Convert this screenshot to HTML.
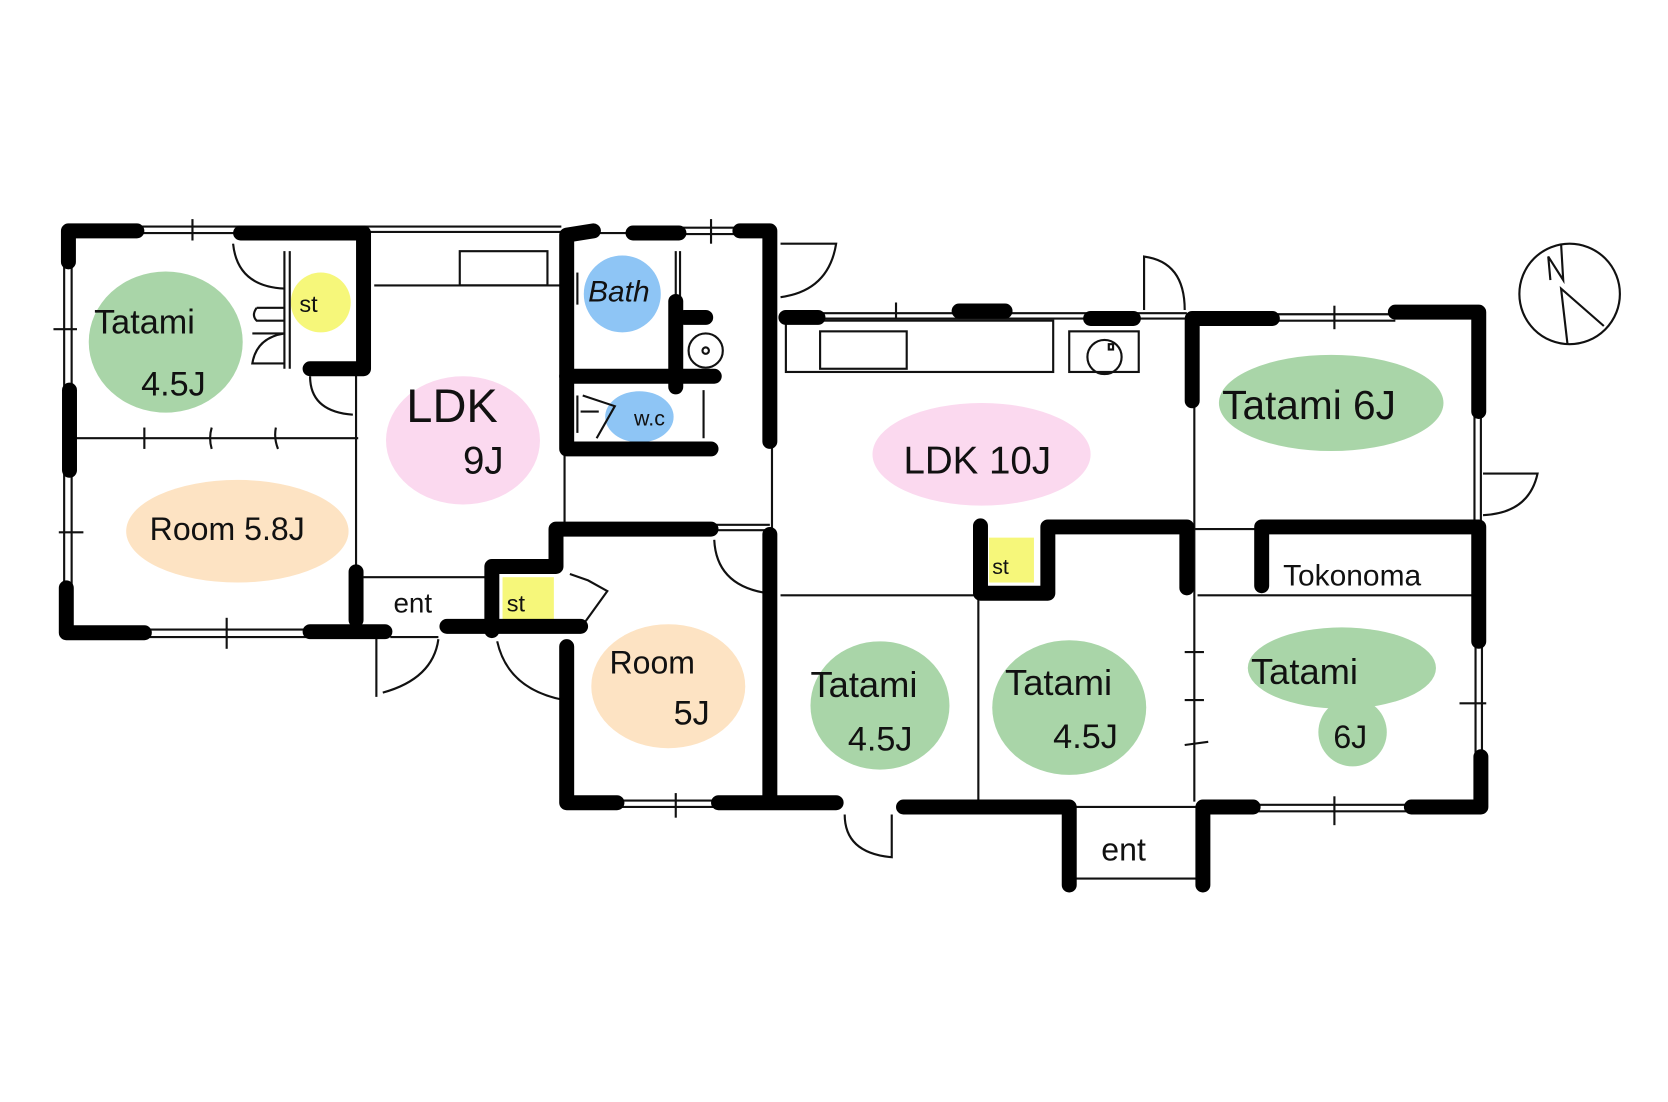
<!DOCTYPE html>
<html><head><meta charset="utf-8"><style>
html,body{margin:0;padding:0;background:#fff;width:1668px;height:1102px;overflow:hidden}
svg{display:block}
text{font-family:"Liberation Sans",sans-serif;fill:#111}
</style></head><body>
<svg width="1668" height="1102" viewBox="0 0 1560 1031" preserveAspectRatio="none" xmlns="http://www.w3.org/2000/svg">
<!-- blobs -->
<g>
<ellipse cx="155" cy="320" rx="72" ry="66" fill="#a9d5a8"/>
<ellipse cx="222" cy="497" rx="104" ry="48" fill="#fde3c3"/>
<ellipse cx="433" cy="412" rx="72" ry="60" fill="#fbd9ef"/>
<ellipse cx="625" cy="642" rx="72" ry="58" fill="#fde3c3"/>
<ellipse cx="918" cy="425" rx="102" ry="48" fill="#fbd9ef"/>
<ellipse cx="1245" cy="377" rx="105" ry="45" fill="#a9d5a8"/>
<ellipse cx="823" cy="660" rx="65" ry="60" fill="#a9d5a8"/>
<ellipse cx="1000" cy="662" rx="72" ry="63" fill="#a9d5a8"/>
<ellipse cx="1255" cy="625" rx="88" ry="38" fill="#a9d5a8"/>
<ellipse cx="1265" cy="685" rx="32" ry="32" fill="#a9d5a8"/>
<circle cx="582" cy="275" r="36" fill="#8ec5f5"/>
<ellipse cx="598" cy="390" rx="32" ry="24" fill="#8ec5f5"/>
<circle cx="300" cy="283" r="28" fill="#f6f77a"/>
<rect x="470" y="540" width="48" height="40" fill="#f6f77a"/>
<rect x="925" y="503" width="42" height="42" fill="#f6f77a"/>
</g>
<!-- thin lines -->
<g stroke="#111" stroke-width="2" fill="none">
<line x1="128" y1="212" x2="225" y2="212"/><line x1="128" y1="218" x2="225" y2="218"/><line x1="180" y1="205" x2="180" y2="225"/>
<line x1="340" y1="212" x2="525" y2="212"/><line x1="340" y1="217" x2="525" y2="217"/>
<line x1="60" y1="245" x2="60" y2="365"/><line x1="67" y1="245" x2="67" y2="365"/><line x1="50" y1="308" x2="72" y2="308"/>
<line x1="60" y1="440" x2="60" y2="550"/><line x1="67" y1="440" x2="67" y2="550"/><line x1="55" y1="498" x2="78" y2="498"/>
<line x1="135" y1="589" x2="290" y2="589"/><line x1="135" y1="596" x2="290" y2="596"/><line x1="212" y1="578" x2="212" y2="607"/>
<line x1="266" y1="235" x2="266" y2="345"/><line x1="271" y1="235" x2="271" y2="345"/>
<path d="M218 228 Q222 268 266 270"/><path d="M240 288 L266 288 M240 288 Q235 295 240 300 L266 300 M236 312 L266 312 Q240 316 236 340 L266 340"/>
<path d="M290 352 Q290 385 330 388"/>
<line x1="68" y1="410" x2="335" y2="410"/><line x1="135" y1="400" x2="135" y2="420"/><path d="M198 400 Q195 410 198 420 M258 400 Q256 410 260 420"/>
<line x1="333" y1="345" x2="333" y2="535"/>
<line x1="350" y1="267" x2="525" y2="267"/><rect x="430" y="235" width="82" height="32"/>
<line x1="340" y1="540" x2="455" y2="540"/><line x1="365" y1="596" x2="410" y2="596"/>
<path d="M352 597 L352 652 M358 648 Q405 635 410 598"/>
<path d="M465 600 Q475 645 528 655"/><path d="M533 537 L550 543 L568 553 L545 585"/>
<line x1="540" y1="255" x2="540" y2="285"/><line x1="632" y1="235" x2="632" y2="300"/><line x1="636" y1="235" x2="636" y2="300"/>
<line x1="555" y1="218" x2="590" y2="218"/><line x1="635" y1="213" x2="690" y2="213"/><line x1="635" y1="219" x2="690" y2="219"/><line x1="665" y1="205" x2="665" y2="228"/>
<circle cx="660" cy="328" r="16"/><circle cx="660" cy="328" r="3"/>
<line x1="540" y1="370" x2="540" y2="405"/><path d="M545 370 L575 380 L558 410" /><line x1="543" y1="385" x2="560" y2="385"/><line x1="658" y1="365" x2="658" y2="410"/>
<line x1="528" y1="420" x2="528" y2="495"/><line x1="722" y1="415" x2="722" y2="495"/>
<line x1="665" y1="491" x2="720" y2="491"/><line x1="665" y1="496" x2="720" y2="496"/>
<path d="M668 505 Q670 548 718 555"/>
<path d="M730 228 L782 228 Q775 272 730 278"/>
<line x1="578" y1="749" x2="670" y2="749"/><line x1="578" y1="755" x2="670" y2="755"/><line x1="632" y1="742" x2="632" y2="765"/>
<line x1="735" y1="293" x2="1110" y2="293"/><line x1="735" y1="298" x2="1110" y2="298"/><line x1="838" y1="283" x2="838" y2="298"/>
<rect x="735" y="300" width="250" height="48"/><rect x="767" y="310" width="81" height="35"/>
<rect x="1000" y="310" width="65" height="38"/><circle cx="1033" cy="334" r="16"/><rect x="1037" y="322" width="4" height="5"/>
<path d="M1070 290 L1070 240 Q1108 245 1108 290"/>
<line x1="1117" y1="300" x2="1117" y2="750"/>
<line x1="1190" y1="294" x2="1305" y2="294"/><line x1="1190" y1="300" x2="1305" y2="300"/><line x1="1248" y1="286" x2="1248" y2="308"/>
<line x1="1379" y1="385" x2="1379" y2="490"/><line x1="1385" y1="385" x2="1385" y2="490"/>
<path d="M1387 443 L1438 443 Q1430 480 1387 482"/>
<line x1="1117" y1="495" x2="1180" y2="495"/><line x1="1120" y1="557" x2="1380" y2="557"/>
<line x1="730" y1="557" x2="915" y2="557"/><line x1="915" y1="560" x2="915" y2="748"/>
<line x1="1108" y1="610" x2="1126" y2="610"/><line x1="1108" y1="655" x2="1126" y2="655"/><path d="M1108 697 L1130 694"/>
<line x1="1380" y1="600" x2="1380" y2="705"/><line x1="1386" y1="600" x2="1386" y2="705"/><line x1="1365" y1="658" x2="1390" y2="658"/>
<line x1="1175" y1="753" x2="1320" y2="753"/><line x1="1175" y1="759" x2="1320" y2="759"/><line x1="1248" y1="745" x2="1248" y2="772"/>
<line x1="1005" y1="755" x2="1120" y2="755"/><line x1="1005" y1="822" x2="1120" y2="822"/>
<path d="M790 762 Q790 798 834 802 L834 762"/>
<circle cx="1468" cy="275" r="47"/>
<path d="M1450 262 L1448 240 L1462 262 L1460 228 M1466 322 L1460 270 L1500 305"/>
</g>
<!-- thick walls -->
<g stroke="#000" stroke-width="14" stroke-linecap="round" stroke-linejoin="round" fill="none">
<path d="M128 216 L64 216 L64 245"/>
<line x1="65" y1="365" x2="65" y2="440"/>
<path d="M62 550 L62 592 L135 592"/>
<path d="M225 218 L340 218 L340 345 L290 345"/>
<line x1="290" y1="591" x2="360" y2="591"/>
<line x1="333" y1="535" x2="333" y2="580"/>
<line x1="418" y1="586" x2="543" y2="586"/>
<path d="M460 590 L460 530 L520 530 L520 495 L665 495"/>
<path d="M555 216 L530 220 L530 420 L665 420"/>
<line x1="530" y1="352" x2="668" y2="352"/>
<line x1="632" y1="282" x2="632" y2="362"/>
<line x1="640" y1="297" x2="660" y2="297"/>
<line x1="592" y1="218" x2="635" y2="218"/>
<path d="M692 216 L720 216 L720 413"/>
<line x1="735" y1="297" x2="765" y2="297"/>
<line x1="897" y1="291" x2="940" y2="291"/>
<line x1="1020" y1="298" x2="1060" y2="298"/>
<line x1="720" y1="500" x2="720" y2="745"/>
<path d="M530 605 L530 751 L577 751"/>
<line x1="672" y1="751" x2="782" y2="751"/>
<path d="M1115 375 L1115 298 L1190 298"/>
<path d="M1305 292 L1383 292 L1383 385"/>
<path d="M917 492 L917 555 L980 555 L980 493 L1110 493 L1110 550"/>
<path d="M1180 548 L1180 493 L1383 493 L1383 600"/>
<path d="M845 755 L1000 755 L1000 828"/>
<path d="M1125 828 L1125 755 L1172 755"/>
<path d="M1320 755 L1385 755 L1385 708"/>
</g>
<!-- labels -->
<g font-size="30">
<text x="88" y="312" font-size="32">Tatami</text>
<text x="132" y="370" font-size="32">4.5J</text>
<text x="280" y="292" font-size="22">st</text>
<text x="140" y="505" font-size="30">Room 5.8J</text>
<text x="380" y="395" font-size="44">LDK</text>
<text x="433" y="443" font-size="36">9J</text>
<text x="550" y="282" font-size="28" font-style="italic">Bath</text>
<text x="593" y="398" font-size="20">w.c</text>
<text x="368" y="573" font-size="26">ent</text>
<text x="474" y="572" font-size="22">st</text>
<text x="928" y="537" font-size="20">st</text>
<text x="570" y="630" font-size="30">Room</text>
<text x="630" y="678" font-size="32">5J</text>
<text x="845" y="443" font-size="36">LDK 10J</text>
<text x="1143" y="392" font-size="38">Tatami 6J</text>
<text x="1200" y="548" font-size="28">Tokonoma</text>
<text x="758" y="652" font-size="34">Tatami</text>
<text x="793" y="702" font-size="32">4.5J</text>
<text x="940" y="650" font-size="34">Tatami</text>
<text x="985" y="700" font-size="32">4.5J</text>
<text x="1170" y="640" font-size="34">Tatami</text>
<text x="1247" y="700" font-size="30">6J</text>
<text x="1030" y="805" font-size="30">ent</text>
</g>
</svg>
</body></html>
